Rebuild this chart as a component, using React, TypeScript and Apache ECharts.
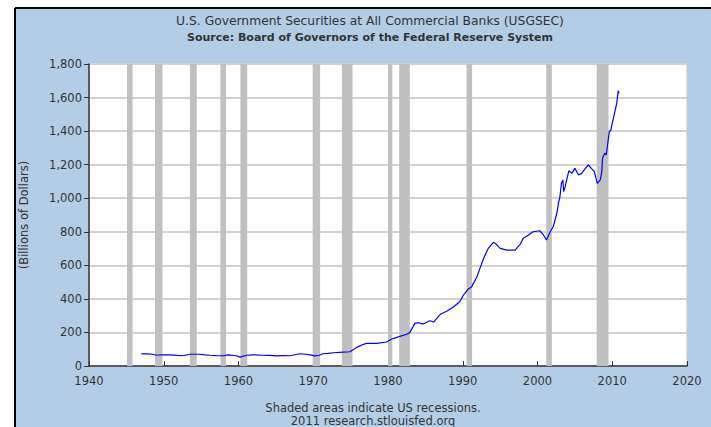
import React, { useEffect, useRef } from "react";
import * as echarts from "echarts";

const years = [
  1947.0, 1947.9, 1948.5, 1949.0, 1949.7, 1950.8, 1951.8, 1952.6, 1953.5, 1954.8,
  1955.5, 1956.2, 1957.0, 1958.0, 1958.6, 1959.7, 1960.2, 1961.1, 1962.0, 1963.3,
  1964.2, 1965.1, 1966.0, 1966.9, 1968.2, 1969.0, 1969.6, 1970.2, 1970.8, 1971.3,
  1972.0, 1972.7, 1974.0, 1974.9, 1975.4, 1975.8, 1976.5, 1977.1, 1978.5, 1979.8,
  1980.5, 1981.0, 1981.6, 1982.5, 1982.9, 1983.6, 1984.1, 1984.7, 1985.6, 1986.1,
  1987.0, 1987.9, 1988.7, 1989.6, 1990.1, 1990.7, 1991.2, 1991.9, 1992.3, 1992.8,
  1993.4, 1994.1, 1994.5, 1995.0, 1995.9, 1997.0, 1997.7, 1998.1, 1998.8, 1999.4,
  2000.3, 2000.8, 2001.2, 2001.7, 2002.1, 2002.6, 2002.8, 2003.0, 2003.2, 2003.4,
  2003.5, 2003.7, 2004.2, 2004.6, 2005.0, 2005.5, 2005.9, 2006.4, 2006.8, 2007.2,
  2007.6, 2008.0, 2008.4, 2008.6, 2008.7, 2009.0, 2009.2, 2009.4, 2009.6, 2009.8,
  2010.0, 2010.3, 2010.6, 2010.8, 2010.9,
];

const values = [
  72, 72, 70, 64, 67, 66, 63, 61, 70, 70,
  66, 64, 62, 61, 66, 61, 53, 64, 66, 64,
  63, 60, 62, 61, 73, 70, 66, 60, 64, 73,
  75, 79, 83, 85, 99, 111, 125, 135, 135, 143,
  161, 168, 177, 189, 199, 254, 258, 250, 270, 262,
  308, 328, 350, 383, 423, 457, 473, 532, 582, 642,
  701, 737, 725, 701, 691, 691, 727, 761, 781, 800,
  806, 781, 751, 800, 830, 912, 970, 1009, 1089, 1109,
  1039, 1069, 1164, 1148, 1178, 1138, 1148, 1178, 1198, 1178,
  1158, 1089, 1109, 1158, 1238, 1268, 1258, 1327, 1397, 1403,
  1447, 1506, 1566, 1641, 1625,
];

const recessionStarts = [1945.08, 1948.83, 1953.5, 1957.58, 1960.25, 1969.92, 1973.83, 1980.0, 1981.5, 1990.5, 2001.17, 2007.92];
const recessionEnds = [1945.83, 1949.83, 1954.42, 1958.33, 1961.17, 1970.92, 1975.25, 1980.58, 1982.92, 1991.25, 2001.92, 2009.5];

const yTicks = [0, 200, 400, 600, 800, 1000, 1200, 1400, 1600, 1800];
const xTicks = [1940, 1950, 1960, 1970, 1980, 1990, 2000, 2010, 2020];

const titleText = "U.S. Government Securities at All Commercial Banks (USGSEC)";
const subtitleText = "Source: Board of Governors of the Federal Reserve System";
const noteText = "Shaded areas indicate US recessions.";
const creditText = "2011 research.stlouisfed.org";
const yName = "(Billions of Dollars)";

export default function App() {
  const ref = useRef<HTMLDivElement>(null);
  useEffect(() => {
    if (!ref.current) return;
    const chart = echarts.init(ref.current, undefined, { renderer: "svg" });
    const font = "DejaVu Sans";
    const textColor = "#333333";
    chart.setOption({
      animation: false,
      backgroundColor: "#ffffff",
      graphic: [
        {
          type: "rect",
          z: -10,
          silent: true,
          shape: { x: 15, y: 8, width: 700, height: 425 },
          style: { fill: "#b3cde6" },
        },
        {
          type: "line",
          z: -9,
          silent: true,
          shape: { x1: 15, y1: 8, x2: 711, y2: 8 },
          style: { stroke: "#000000", lineWidth: 2 },
        },
        {
          type: "line",
          z: -9,
          silent: true,
          shape: { x1: 15, y1: 8, x2: 15, y2: 427 },
          style: { stroke: "#000000", lineWidth: 2 },
        },
        {
          type: "text",
          x: 370,
          y: 21,
          style: { text: titleText, textAlign: "center", textVerticalAlign: "middle", fill: textColor, font: `12.3px '${font}'` },
        },
        {
          type: "text",
          x: 370,
          y: 37,
          style: { text: subtitleText, textAlign: "center", textVerticalAlign: "middle", fill: textColor, font: `bold 11px '${font}'` },
        },
        {
          type: "text",
          x: 373,
          y: 408,
          style: { text: noteText, textAlign: "center", textVerticalAlign: "middle", fill: textColor, font: `11.5px '${font}'` },
        },
        {
          type: "text",
          x: 373,
          y: 421,
          style: { text: creditText, textAlign: "center", textVerticalAlign: "middle", fill: textColor, font: `11.5px '${font}'` },
        },
      ],
      grid: { left: 89, right: 24, top: 64, bottom: 61, show: true, backgroundColor: "#ffffff", borderColor: "#c8c8c8", borderWidth: 1 },
      xAxis: {
        type: "value",
        min: xTicks[0],
        max: xTicks[xTicks.length - 1],
        interval: 10,
        axisLine: { show: true, onZero: false, lineStyle: { color: "#333333", width: 1.5 } },
        axisTick: { show: true, inside: true, length: 5, lineStyle: { color: "#333333" } },
        axisLabel: { color: textColor, fontFamily: font, fontSize: 11.5, margin: 9, formatter: (v: number) => String(v) },
        splitLine: { show: false },
      },
      yAxis: {
        type: "value",
        min: yTicks[0],
        max: yTicks[yTicks.length - 1],
        interval: 200,
        name: yName,
        nameLocation: "middle",
        nameGap: 59,
        nameTextStyle: { color: textColor, fontFamily: font, fontSize: 11.5 },
        axisLine: { show: true, lineStyle: { color: "#333333", width: 1.5 } },
        axisTick: { show: true, inside: false, length: 5, lineStyle: { color: "#333333" } },
        axisLabel: {
          color: textColor,
          fontFamily: font,
          fontSize: 11.5,
          margin: 7,
          formatter: (v: number) => v.toLocaleString("en-US"),
        },
        splitLine: { show: true, lineStyle: { color: "#d2d2d2", width: 2 } },
      },
      series: [
        {
          type: "line",
          data: [],
          silent: true,
          markArea: {
            silent: true,
            itemStyle: { color: "#c0c0c0", opacity: 1 },
            data: recessionStarts.map((s, i) => [{ xAxis: s }, { xAxis: recessionEnds[i] }]),
          },
        },
        {
          type: "line",
          data: years.map((y, i) => [y, values[i]]),
          showSymbol: false,
          symbol: "none",
          lineStyle: { color: "#0000ff", width: 1.2 },
          z: 5,
        },
      ],
    });
    return () => chart.dispose();
  }, []);
  return (
    <div
      ref={ref}
      style={{ position: "absolute", left: 0, top: 0, width: 711, height: 427 }}
    />
  );
}
